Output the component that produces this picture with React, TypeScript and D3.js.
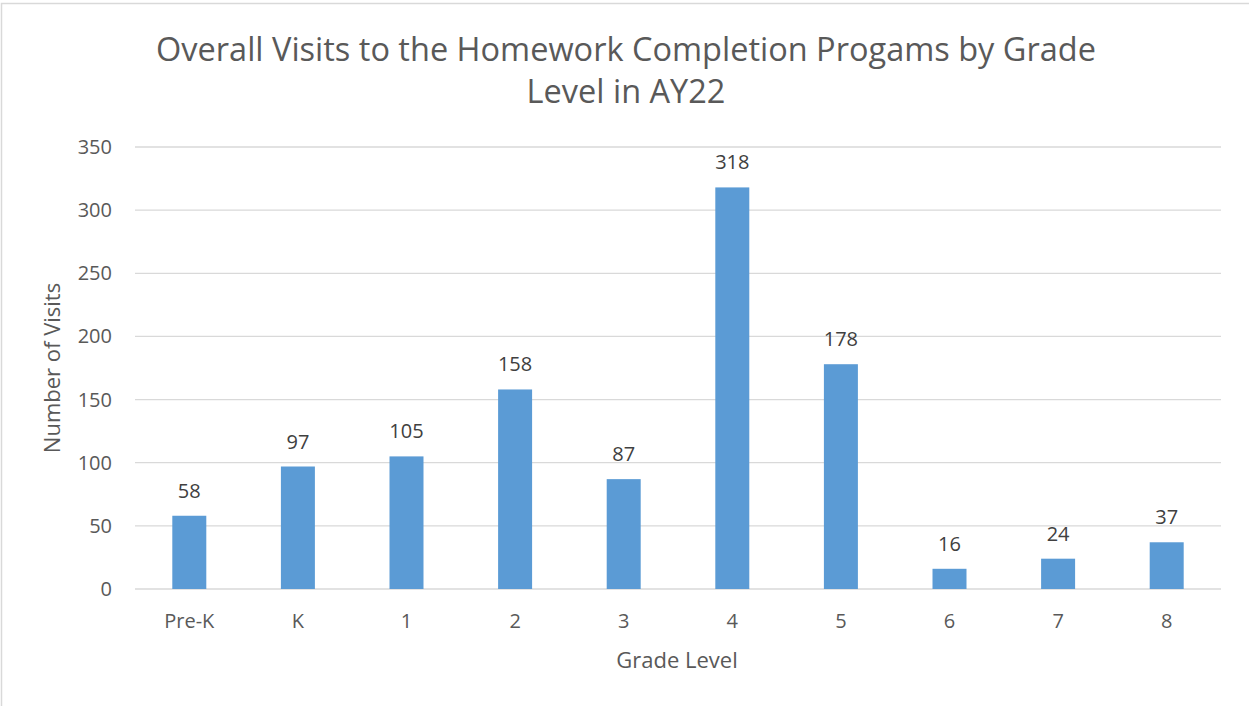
import React from "react";
import * as d3 from "d3";

const categories: string[] = ["Pre-K", "K", "1", "2", "3", "4", "5", "6", "7", "8"];
const visits: number[] = [58, 97, 105, 158, 87, 318, 178, 16, 24, 37];
const yTicks: number[] = [0, 50, 100, 150, 200, 250, 300, 350];
const titleLines: string[] = ["Overall Visits to the Homework Completion Progams by Grade", "Level in AY22"];
const xTitle = "Grade Level";
const yTitle = "Number of Visits";

const W = 1249;
const H = 706;
const FONT = "'Open Sans', 'Liberation Sans', sans-serif";
const TXT = "#595959";

export default function App() {
  const x = d3.scaleBand<string>().domain(categories).range([135, 1221]).paddingInner(0.687).paddingOuter(0.3435);
  const y = d3.scaleLinear().domain([0, 350]).range([589, 147]);

  return (
    <svg width={W} height={H} style={{ position: "absolute", left: 0, top: 0, background: "#fff" }} fontFamily={FONT}>
      <rect x={1.5} y={3.5} width={W + 20} height={H + 20} fill="#fff" stroke="#d9d9d9" strokeWidth={1.5} />
      {titleLines.map((t, i) => (
        <text key={i} x={626} y={61 + i * 42} textAnchor="middle" fontSize={32.5} fill={TXT}>{t}</text>
      ))}
      {yTicks.map((t) => (
        <g key={t}>
          <line x1={135} x2={1221} y1={y(t)} y2={y(t)} stroke="#d9d9d9" strokeWidth={1.3} />
          <text x={112} y={y(t)} dy="0.35em" textAnchor="end" fontSize={20} fill={TXT}>{t}</text>
        </g>
      ))}
      {categories.map((c, i) => (
        <g key={c}>
          <rect x={x(c)!} y={y(visits[i])} width={x.bandwidth()} height={y(0) - y(visits[i])} fill="#5b9bd5" />
          <text x={x(c)! + x.bandwidth() / 2} y={y(visits[i]) - 18} textAnchor="middle" fontSize={20} fill="#404040">{visits[i]}</text>
          <text x={x(c)! + x.bandwidth() / 2} y={621} dy="0.35em" textAnchor="middle" fontSize={20} fill={TXT}>{c}</text>
        </g>
      ))}
      <text x={677} y={660} dy="0.35em" textAnchor="middle" fontSize={22} fill={TXT}>{xTitle}</text>
      <text transform={`translate(52,368) rotate(-90)`} dy="0.35em" textAnchor="middle" fontSize={22} fill={TXT}>{yTitle}</text>
    </svg>
  );
}
